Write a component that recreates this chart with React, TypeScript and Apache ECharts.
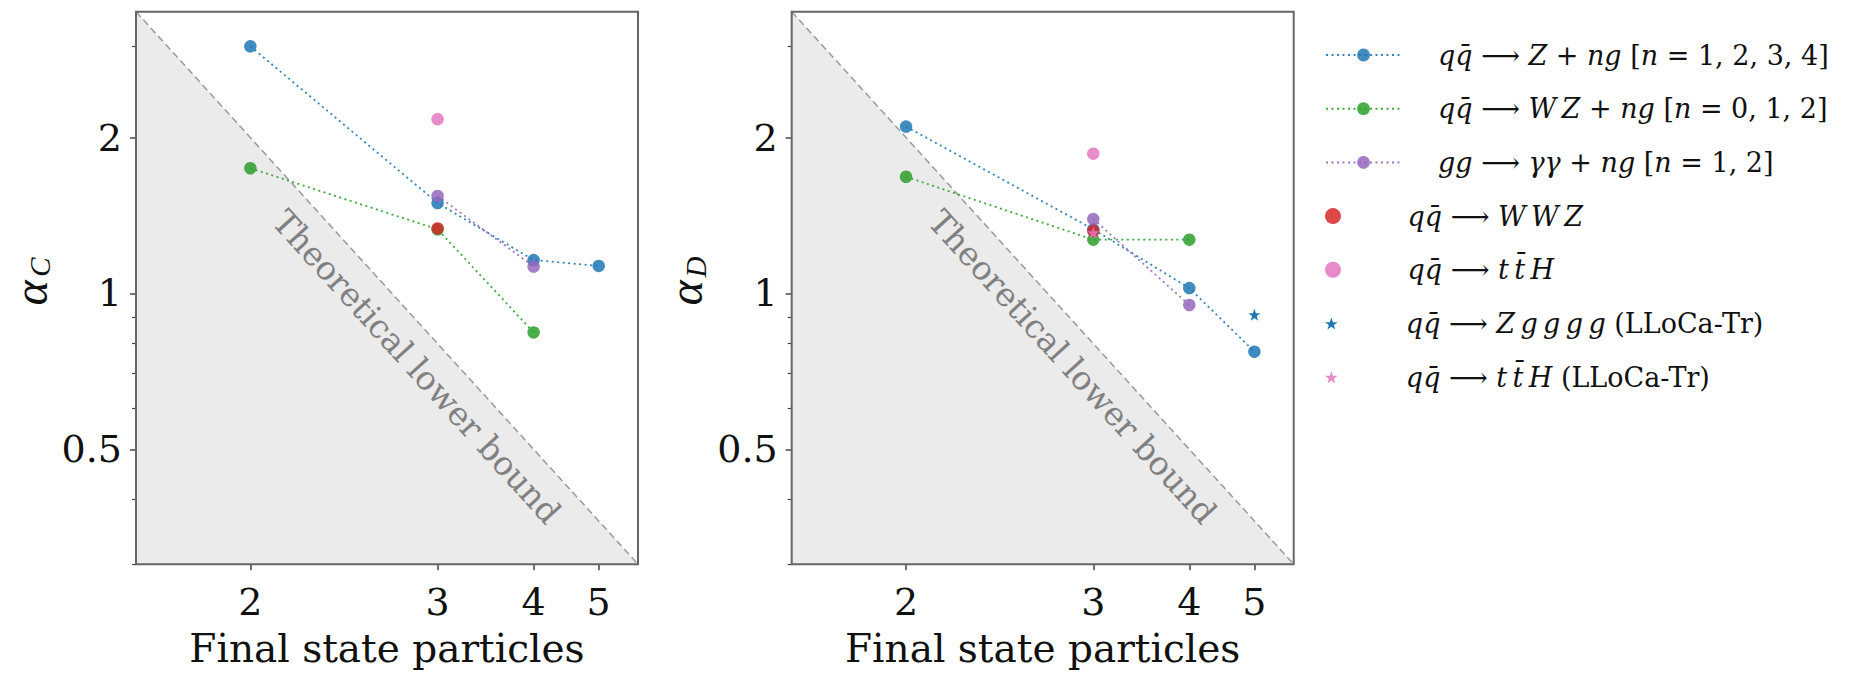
import React, { useEffect, useRef } from 'react';
import * as echarts from 'echarts';

// ---------- data ----------
const X_TICKS = [2, 3, 4, 5];
const X_TICK_LABELS = ['2', '3', '4', '5'];
const Y_TICKS = [0.5, 1, 2];
const Y_TICK_LABELS = ['0.5', '1', '2'];
const Y_MINOR_TICKS = [0.3, 0.4, 0.6, 0.7, 0.8, 0.9, 3];
const ALPHA_MIN = 0.3;
const ALPHA_MAX = 3.5;

const N_Z = [2, 3, 4, 5];
const ALPHA_C_Z = [3.0, 1.495, 1.16, 1.13];
const ALPHA_D_Z = [2.1, 1.33, 1.024, 0.772];

const N_WZ = [2, 3, 4];
const ALPHA_C_WZ = [1.745, 1.33, 0.841];
const ALPHA_D_WZ = [1.68, 1.27, 1.27];

const N_GG = [3, 4];
const ALPHA_C_GG = [1.543, 1.127];
const ALPHA_D_GG = [1.392, 0.95];

const N_WWZ = [3];
const ALPHA_C_WWZ = [1.335];
const ALPHA_D_WWZ = [1.321];

const N_TTH = [3];
const ALPHA_C_TTH = [2.17];
const ALPHA_D_TTH = [1.862];

const N_ZGGGG_TR = [5];
const ALPHA_D_ZGGGG_TR = [0.91];

const N_TTH_TR = [3];
const ALPHA_D_TTH_TR = [1.31];

const NAME_Z = 'qq̄ → Z + ng [n = 1,2,3,4]';
const NAME_WZ = 'qq̄ → WZ + ng [n = 0,1,2]';
const NAME_GG = 'gg → γγ + ng [n = 1,2]';
const NAME_WWZ = 'qq̄ → WWZ';
const NAME_TTH = 'qq̄ → tt̄H';
const NAME_ZG_TR = 'qq̄ → Zgggg (LLoCa-Tr)';
const NAME_TTH_TR = 'qq̄ → tt̄H (LLoCa-Tr)';

const TS = '\u2009';
const LEGEND_RICH: Record<string, string> = {
  [NAME_Z]: `{g| }{i|qq̄}{r| ⟶ }{i|Z}{r| + }{i|ng}{r| [}{i|n}{r| = 1, 2, 3, 4]}`,
  [NAME_WZ]: `{g| }{i|qq̄}{r| ⟶ }{i|W${TS}Z}{r| + }{i|ng}{r| [}{i|n}{r| = 0, 1, 2]}`,
  [NAME_GG]: `{g| }{i|gg}{r| ⟶ }{i|γγ}{r| + }{i|ng}{r| [}{i|n}{r| = 1, 2]}`,
  [NAME_WWZ]: `{g| }{i|qq̄}{r| ⟶ }{i|W${TS}W${TS}Z}`,
  [NAME_TTH]: `{g| }{i|qq̄}{r| ⟶ }{i|t${TS}t̄${TS}H}`,
  [NAME_ZG_TR]: `{g| }{i|qq̄}{r| ⟶ }{i|Z${TS}g${TS}g${TS}g${TS}g}{r| (LLoCa-Tr)}`,
  [NAME_TTH_TR]: `{g| }{i|qq̄}{r| ⟶ }{i|t${TS}t̄${TS}H}{r| (LLoCa-Tr)}`,
};

const BLUE = '#1f77b4';
const GREEN = '#2ca02c';
const PURPLE = '#9467bd';
const RED = '#d62728';
const PINK = '#e377c2';

const STAR =
  'path://M50,0 L61.8,35.1 L98.1,35.1 L68.8,56.7 L79.4,91 L50,70 L20.6,91 L31.2,56.7 L1.9,35.1 L38.2,35.1 Z';

// ---------- scales ----------
// x: final-state multiplicity n mapped to log(3n-4); y: log2(alpha)
const fx = (n: number) => Math.log(3 * n - 4);
const fy = (a: number) => Math.log2(a);
const boundAlpha = (n: number) => 4 / (3 * n - 4);
const N_AT_MAX = (4 / ALPHA_MAX + 4) / 3;
const N_AT_MIN = (4 / ALPHA_MIN + 4) / 3;
const X_MIN = fx(N_AT_MAX);
const X_MAX = fx(N_AT_MIN);
const Y_MIN = fy(ALPHA_MIN);
const Y_MAX = fy(ALPHA_MAX);

const FONT = 'DejaVu Serif';

const GRIDS = [
  { left: 136, top: 11.7, width: 502, height: 552.5 },
  { left: 791.7, top: 11.7, width: 502, height: 552.5 },
];

function pickLabel(v: number, ticks: number[], labels: string[], f: (x: number) => number) {
  const i = ticks.findIndex((t) => Math.abs(f(t) - v) < 1e-6);
  return i >= 0 ? labels[i] : '';
}

function lineSeries(name: string, color: string, ns: number[], vals: number[], g: number) {
  return {
    type: 'line',
    name,
    xAxisIndex: g,
    yAxisIndex: g * 2,
    data: ns.map((n, i) => [fx(n), fy(vals[i])]),
    symbol: 'circle',
    symbolSize: 12.5,
    showSymbol: true,
    lineStyle: { color, width: 1.8, type: [2, 3.5], opacity: 0.9 },
    itemStyle: { color, opacity: 0.85 },
    emphasis: { disabled: true },
    z: 3,
  };
}

function scatterSeries(
  name: string,
  color: string,
  ns: number[],
  vals: number[],
  g: number,
  symbol = 'circle',
  size = 12.5,
  opacity = 0.85
) {
  return {
    type: 'scatter',
    name,
    xAxisIndex: g,
    yAxisIndex: g * 2,
    data: ns.map((n, i) => [fx(n), fy(vals[i])]),
    symbol,
    symbolSize: size,
    itemStyle: { color, opacity },
    emphasis: { disabled: true },
    z: 4,
  };
}

export default function App() {
  const ref = useRef<HTMLDivElement>(null);

  useEffect(() => {
    if (!ref.current) return;
    const chart = echarts.init(ref.current, undefined, { renderer: 'svg' });

    const xAxes: any[] = [];
    const yAxes: any[] = [];
    const series: any[] = [];
    const graphic: any[] = [];

    GRIDS.forEach((gr, g) => {
      xAxes.push({
        gridIndex: g,
        type: 'value',
        position: 'bottom',
        min: X_MIN,
        max: X_MAX,
        axisLine: { show: false, onZero: false },
        splitLine: { show: false },
        axisTick: {
          show: true,
          customValues: X_TICKS.map(fx),
          length: 6,
          lineStyle: { color: '#444', width: 1.5 },
        },
        axisLabel: {
          customValues: X_TICKS.map(fx),
          formatter: (v: number) => pickLabel(v, X_TICKS, X_TICK_LABELS, fx),
          fontFamily: FONT,
          fontSize: 38,
          color: '#111',
          margin: 19,
        },
        name: 'Final state particles',
        nameLocation: 'middle',
        nameGap: 65,
        nameTextStyle: { fontFamily: FONT, fontSize: 39, color: '#111' },
      });
      yAxes.push({
        gridIndex: g,
        type: 'value',
        position: 'left',
        min: Y_MIN,
        max: Y_MAX,
        axisLine: { show: false, onZero: false },
        splitLine: { show: false },
        axisTick: {
          show: true,
          customValues: Y_TICKS.map(fy),
          length: 6,
          lineStyle: { color: '#444', width: 1.5 },
        },
        axisLabel: {
          customValues: Y_TICKS.map(fy),
          formatter: (v: number) => pickLabel(v, Y_TICKS, Y_TICK_LABELS, fy),
          fontFamily: FONT,
          fontSize: 38,
          color: '#111',
          margin: 14,
        },
      });
      yAxes.push({
        gridIndex: g,
        type: 'value',
        position: 'left',
        min: Y_MIN,
        max: Y_MAX,
        axisLine: { show: false, onZero: false },
        splitLine: { show: false },
        axisTick: {
          show: true,
          customValues: Y_MINOR_TICKS.map(fy),
          length: 4,
          lineStyle: { color: '#444', width: 1.2 },
        },
        axisLabel: { show: false },
      });

      // shaded region below theoretical bound
      series.push({
        type: 'line',
        xAxisIndex: g,
        yAxisIndex: g * 2,
        data: [
          [fx(N_AT_MAX), fy(boundAlpha(N_AT_MAX))],
          [fx(N_AT_MIN), fy(boundAlpha(N_AT_MIN))],
        ],
        symbol: 'none',
        silent: true,
        lineStyle: { color: '#9a9a9a', width: 1.5, type: [7, 4] },
        areaStyle: { color: '#ebebeb', opacity: 1, origin: 'start' },
        z: 1,
      });

      const C = g === 0;
      series.push(lineSeries(NAME_Z, BLUE, N_Z, C ? ALPHA_C_Z : ALPHA_D_Z, g));
      series.push(lineSeries(NAME_WZ, GREEN, N_WZ, C ? ALPHA_C_WZ : ALPHA_D_WZ, g));
      series.push(lineSeries(NAME_GG, PURPLE, N_GG, C ? ALPHA_C_GG : ALPHA_D_GG, g));
      series.push(scatterSeries(NAME_WWZ, RED, N_WWZ, C ? ALPHA_C_WWZ : ALPHA_D_WWZ, g));
      series.push(scatterSeries(NAME_TTH, PINK, N_TTH, C ? ALPHA_C_TTH : ALPHA_D_TTH, g));
      if (!C) {
        series.push(scatterSeries(NAME_ZG_TR, BLUE, N_ZGGGG_TR, ALPHA_D_ZGGGG_TR, g, STAR, 12, 1));
        series.push(scatterSeries(NAME_TTH_TR, PINK, N_TTH_TR, ALPHA_D_TTH_TR, g, STAR, 12, 0.85));
      }

      // frame
      graphic.push({
        type: 'rect',
        shape: { x: gr.left, y: gr.top, width: gr.width, height: gr.height },
        style: { fill: 'none', stroke: '#666', lineWidth: 2 },
        z: 100,
        silent: true,
      });

      // bound label
      const th = Math.atan2(gr.height, gr.width);
      const t = 0.605;
      const d = 31;
      graphic.push({
        type: 'text',
        x: gr.left + t * gr.width - d * Math.sin(th),
        y: gr.top + t * gr.height + d * Math.cos(th),
        rotation: -th,
        silent: true,
        z: 50,
        style: {
          text: 'Theoretical lower bound',
          fontFamily: FONT,
          fontSize: 33,
          fill: '#808080',
          align: 'center',
          verticalAlign: 'middle',
        },
      });

      // y-axis name alpha_C / alpha_D
      graphic.push({
        type: 'text',
        x: gr.left - 106,
        y: 293,
        rotation: Math.PI / 2,
        silent: true,
        style: {
          text: 'α',
          fontFamily: 'Liberation Serif',
          fontStyle: 'italic',
          fontSize: 48,
          lineHeight: 40,
          fill: '#111',
          align: 'center',
          verticalAlign: 'middle',
        },
      });
      graphic.push({
        type: 'text',
        x: gr.left - 96,
        y: 267,
        rotation: Math.PI / 2,
        silent: true,
        style: {
          text: C ? 'C' : 'D',
          fontFamily: 'Liberation Serif',
          fontStyle: 'italic',
          fontSize: 29,
          fill: '#111',
          align: 'center',
          verticalAlign: 'middle',
        },
      });
    });

    const legendNames = [NAME_Z, NAME_WZ, NAME_GG, NAME_WWZ, NAME_TTH, NAME_ZG_TR, NAME_TTH_TR];
    const rich = {
      g: { width: 32, fontSize: 27, lineHeight: 30 },
      i: { fontFamily: FONT, fontStyle: 'italic', fontSize: 27, color: '#111', lineHeight: 30 },
      r: { fontFamily: FONT, fontSize: 27, color: '#111', lineHeight: 30 },
    };
    const legends = legendNames.map((nm, i) => {
      const isStar = i >= 5;
      return {
        data: [nm],
        left: 1325,
        top: 55 + 53.7 * i - 15,
        orient: 'vertical',
        itemWidth: 75,
        itemHeight: isStar ? 12 : 16,
        itemGap: 0,
        padding: 0,
        selectedMode: false,
        formatter: (n: string) => LEGEND_RICH[n],
        textStyle: { fontFamily: FONT, fontSize: 27, color: '#111', lineHeight: 30, rich },
      };
    });

    chart.setOption({
      animation: false,
      backgroundColor: '#ffffff',
      grid: GRIDS.map((gr) => ({ ...gr, show: false, containLabel: false })),
      xAxis: xAxes,
      yAxis: yAxes,
      legend: legends,
      series,
      graphic,
    });

    return () => chart.dispose();
  }, []);

  return (
    <div
      ref={ref}
      style={{ position: 'absolute', left: 0, top: 0, width: 1860, height: 675, background: '#fff' }}
    />
  );
}
